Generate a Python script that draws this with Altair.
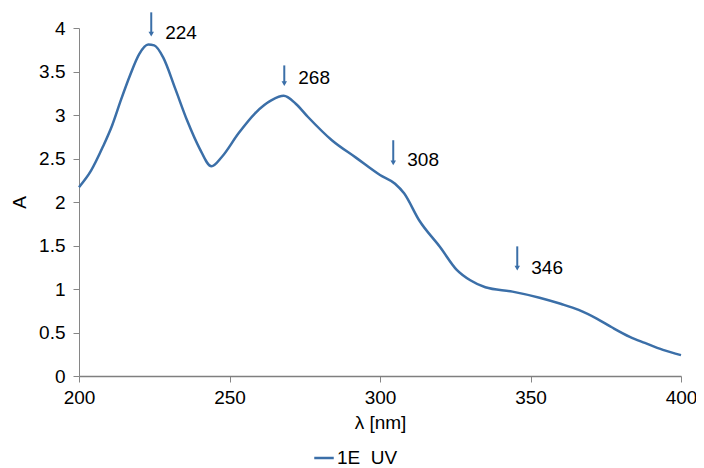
import altair as alt
import pandas as pd

wavelength = [200, 204, 208, 211, 214, 217, 220, 223, 225, 228,
              232, 236, 240, 244, 247.5, 253, 258.5, 264, 268, 272,
              276, 284, 292, 300, 305, 308, 313, 320, 325.5, 330,
              335, 344, 353, 360, 366, 372, 377, 383, 388, 394,
              400]
absorb = [2.17, 2.36, 2.64, 2.88, 3.18, 3.46, 3.70, 3.81, 3.80, 3.66,
          3.30, 2.93, 2.62, 2.41, 2.52, 2.79, 3.02, 3.17, 3.22, 3.13,
          2.98, 2.71, 2.51, 2.31, 2.21, 2.10, 1.79, 1.48, 1.22, 1.10,
          1.02, 0.97, 0.90, 0.83, 0.76, 0.66, 0.56, 0.45, 0.38, 0.30,
          0.24]
series_name = "1E\u00a0\u00a0UV"

peak_labels = ["224", "268", "308", "346"]
arrow_x = [224, 268.2, 304.4, 345.6]
arrow_top = [4.18, 3.57, 2.71, 1.49]
arrow_tip = [3.93, 3.36, 2.45, 1.24]
label_y = [3.94, 3.42, 2.48, 1.24]

BLUE = "#3B6FA8"
FONT = "Liberation Sans"

df = pd.DataFrame({"wl": wavelength, "A": absorb, "series": series_name})
arr = pd.DataFrame({"x": arrow_x, "top": arrow_top, "tip": arrow_tip,
                    "ly": label_y, "label": peak_labels})

xscale = alt.Scale(domain=[200, 400], nice=False)
yscale = alt.Scale(domain=[0, 4], nice=False)

line = alt.Chart(df).mark_line(strokeWidth=2.5, interpolate="monotone").encode(
    x=alt.X("wl:Q", scale=xscale,
            axis=alt.Axis(values=[200, 250, 300, 350, 400], title="λ [nm]",
                          labelFlush=False,
                          domainColor="#7f7f7f", domainWidth=1.5)),
    y=alt.Y("A:Q", scale=yscale,
            axis=alt.Axis(values=[0, 0.5, 1, 1.5, 2, 2.5, 3, 3.5, 4], format="~g",
                          labelFlush=False, title="A")),
    color=alt.Color("series:N", scale=alt.Scale(range=[BLUE]),
                    legend=alt.Legend(title=None, orient="none", legendX=234, legendY=419,
                                      symbolType="stroke", symbolSize=380,
                                      symbolStrokeWidth=2.5, labelFontSize=19,
                                      labelFont=FONT, labelColor="#000",
                                      labelOffset=2)),
)

rules = alt.Chart(arr).mark_rule(color=BLUE, strokeWidth=2, clip=False).encode(
    x="x:Q", y="top:Q", y2="tip:Q")
heads = alt.Chart(arr).mark_point(shape="triangle-down", filled=True, color=BLUE,
                                  size=30, opacity=1, clip=False).encode(
    x="x:Q", y="tip:Q")
labels = alt.Chart(arr).mark_text(align="left", baseline="middle", dx=14,
                                  fontSize=19, font=FONT, color="#000",
                                  clip=False).encode(
    x="x:Q", y="ly:Q", text="label:N")

chart = alt.layer(line, rules, heads, labels).properties(
    width=602, height=348,
    autosize=alt.AutoSizeParams(type="none"),
    padding={"left": 71, "top": 20, "right": 15, "bottom": 92},
).configure_view(stroke=None).configure_axis(
    grid=False, domainColor="#868686", tickColor="#868686", tickSize=6,
    labelFont=FONT, labelFontSize=19, labelColor="#000",
    titleFont=FONT, titleFontSize=19, titleColor="#000", titleFontWeight="normal",
).configure_axisY(labelPadding=8, titlePadding=9).configure_axisX(
    labelPadding=6, titlePadding=6)

chart.save("out.html", embed_options={"renderer": "svg", "actions": False})
